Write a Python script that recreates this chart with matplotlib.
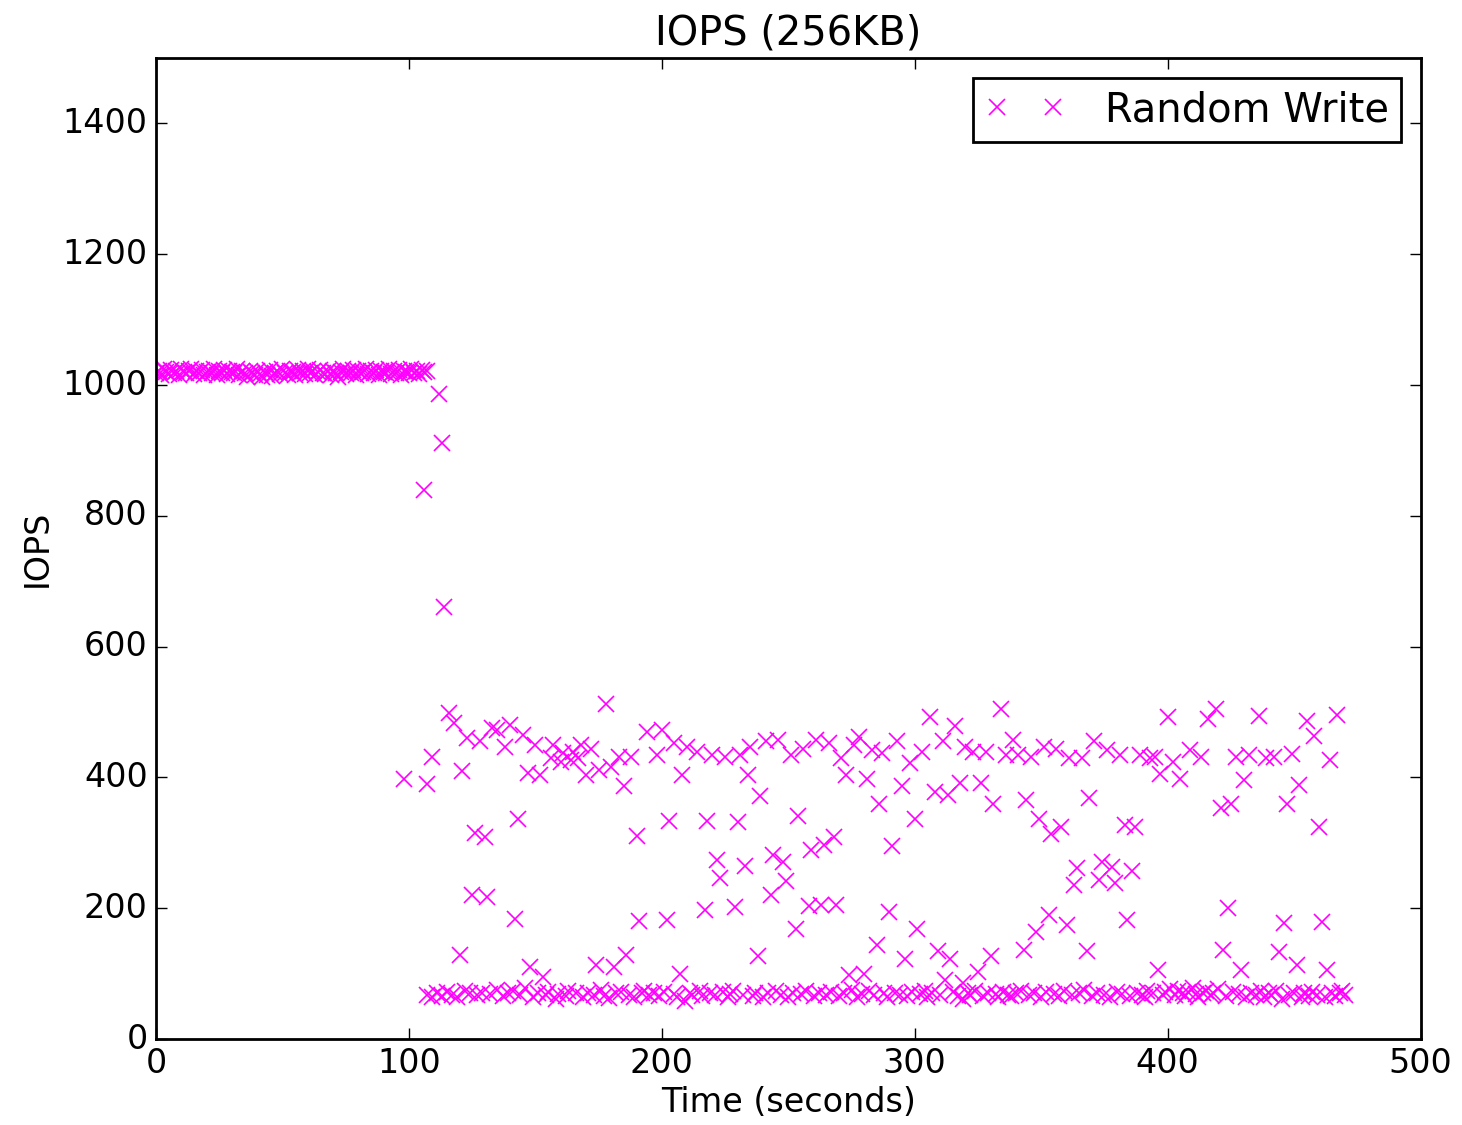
import numpy as np
import matplotlib
matplotlib.use('Agg')
import matplotlib.pyplot as plt

plt.style.use('classic')

# plateau before the drive falls off (one sample per second)
plateau_t = np.arange(0, 108)
plateau_v = [1018, 1022, 1015, 1024, 1020, 1017, 1023, 1019, 1021, 1016, 1025, 1020,
             1018, 1022, 1024, 1017, 1021, 1019, 1023, 1016, 1020, 1022, 1018, 1024,
             1015, 1021, 1019, 1023, 1017, 1022, 1020, 1018, 1024, 1016, 1021, 1019,
             1013, 1022, 1018, 1015, 1021, 1017, 1012, 1020, 1016, 1023, 1014, 1019,
             1021, 1017, 1024, 1018, 1015, 1022, 1020, 1016, 1023, 1019, 1021, 1017,
             1024, 1018, 1022, 1016, 1020, 1023, 1019, 1017, 1021, 1015, 1022, 1018,
             1013, 1020, 1024, 1017, 1021, 1019, 1023, 1016, 1022, 1018, 1020, 1024,
             1017, 1021, 1019, 1023, 1016, 1022, 1020, 1018, 1024, 1017, 1021, 1019,
             1023, 1016, 1022, 1020, 1018, 1024, 1019, 1021, 1017, 1023, 1020, 1022]

# low band after the drop
low_t = [107, 109, 111, 113, 115, 117, 119, 122, 124, 127,
         129, 132, 135, 137, 139, 141, 144, 146, 149, 151,
         154, 155, 158, 159, 162, 163, 166, 169, 171, 173,
         176, 177, 179, 182, 184, 187, 189, 192, 193, 195,
         197, 199, 201, 205, 206, 209, 211, 212, 215, 216,
         219, 221, 224, 226, 227, 228, 232, 236, 237, 240,
         242, 245, 247, 250, 252, 255, 257, 260, 262, 265,
         267, 270, 272, 275, 277, 279, 282, 284, 288, 289,
         292, 294, 297, 299, 302, 304, 305, 307, 310, 315,
         317, 319, 321, 322, 324, 327, 329, 332, 333, 335,
         337, 338, 340, 342, 345, 347, 350, 352, 355, 357,
         359, 362, 365, 367, 370, 372, 375, 377, 380, 382,
         385, 388, 390, 391, 392, 394, 398, 399, 401, 403,
         404, 406, 407, 408, 410, 411, 412, 414, 415, 417,
         418, 420, 423, 426, 428, 431, 433, 435, 437, 438,
         440, 441, 443, 445, 448, 450, 453, 454, 456, 457,
         459, 462, 465, 466, 468, 469, 470]
low_v = [68, 64, 70, 66, 72, 68, 65, 74, 70, 67,
         71, 69, 75, 66, 70, 73, 68, 78, 64, 70,
         67, 72, 62, 69, 66, 74, 70, 65, 71, 68,
         75, 66, 63, 70, 72, 68, 65, 71, 74, 67,
         70, 66, 72, 69, 65, 58, 71, 68, 73, 66,
         70, 67, 72, 65, 69, 74, 68, 66, 71, 64,
         70, 73, 67, 65, 71, 69, 74, 66, 70, 68,
         72, 66, 70, 75, 64, 69, 73, 67, 71, 65,
         70, 68, 66, 72, 69, 74, 64, 70, 67, 72,
         66, 62, 70, 68, 73, 66, 71, 69, 65, 72,
         68, 66, 71, 74, 67, 70, 65, 72, 69, 66,
         73, 68, 70, 75, 66, 71, 68, 64, 72, 69,
         66, 71, 68, 65, 73, 70, 67, 72, 76, 68,
         74, 70, 66, 72, 78, 69, 65, 71, 74, 67,
         70, 76, 66, 72, 69, 65, 71, 68, 74, 64,
         70, 67, 73, 62, 68, 71, 65, 70, 66, 72,
         68, 64, 71, 66, 70, 74, 68]

# everything else (upper band and scattered samples)
scat_t = [98, 106, 107, 109, 112, 113, 114, 116, 118, 120, 121, 123, 125, 126, 128,
          130, 131, 133, 135, 138, 140, 142, 143, 145, 147, 148, 150, 152, 153, 156,
          157, 160, 161, 164, 165, 167, 168, 170, 172, 174, 175, 178, 180, 181, 183,
          185, 186, 188, 190, 191, 194, 198, 200, 202, 203, 205, 207,
          208, 210, 214, 217, 218, 220, 222, 223, 225, 229, 230, 231, 233, 234, 235,
          238, 239, 241, 243, 244, 246, 248, 249, 251, 253, 254, 256, 258, 259, 261,
          263, 264, 266, 268, 269, 271, 273, 274, 276, 278, 280, 281, 283, 285, 286,
          287, 290, 291, 293, 295, 296, 298, 300, 301, 303, 306, 308, 309, 311, 312,
          313, 314, 316, 318, 319, 320,
          323, 325, 326, 328, 330, 331, 334, 336, 339, 341, 343, 344, 346, 348, 349,
          351, 353, 354, 356, 358, 360, 361, 363, 364, 366, 368, 369, 371, 373, 374,
          376, 378, 379, 381, 383, 384, 386, 387, 389, 393, 395, 396, 397, 400, 402,
          405, 409, 413, 416, 419, 421, 422, 424, 425, 427, 429, 430, 432, 436,
          439, 442, 444, 446, 447, 449, 451, 452, 455, 458, 460, 461, 463, 464, 467]
scat_v = [397, 840, 390, 432, 986, 912, 661, 499, 483, 128, 410, 460, 220, 315, 456,
          309, 217, 475, 472, 447, 480, 183, 337, 465, 407, 110, 450, 404, 95, 430,
          450, 424, 437, 427, 439, 429, 450, 404, 444, 113, 411, 512, 416, 110, 432,
          387, 128, 432, 311, 181, 470, 434, 472, 182, 334, 452, 100,
          404, 447, 439, 197, 334, 434, 274, 246, 432, 202, 332, 434, 265, 404, 447,
          127, 372, 455, 220, 281, 457, 271, 241, 434, 169, 341, 444, 203, 289, 457,
          205, 297, 452, 309, 205, 429, 404, 98, 450, 462, 100, 397, 442, 144, 360,
          437, 195, 295, 455, 387, 122, 422, 337, 168, 439, 493, 378, 134, 455, 90,
          373, 123, 479, 391, 85, 447,
          439, 103, 391, 439, 127, 359, 504, 434, 457, 434, 136, 366, 432, 163, 337,
          447, 190, 313, 444, 325, 174, 429, 235, 261, 429, 134, 368, 455, 243, 270,
          442, 263, 238, 434, 327, 182, 257, 325, 434, 429, 432, 105, 405, 492, 424,
          397, 442, 432, 489, 504, 354, 136, 200, 359, 432, 105, 396, 434, 494,
          429, 432, 133, 178, 360, 436, 113, 388, 487, 463, 325, 179, 105, 426, 495]

t = np.concatenate([plateau_t, low_t, scat_t])
v = np.concatenate([plateau_v, low_v, scat_v])
order = np.argsort(t, kind='stable')

fig = plt.figure(figsize=(7.31, 5.625), dpi=200, facecolor='white')
ax = fig.add_axes([0.1067, 0.0764, 0.865, 0.872])
ax.plot(t[order], v[order], 'x', color='magenta', markersize=6,
        markeredgewidth=0.6, label='Random Write')
ax.set_xlim(0, 500)
ax.set_ylim(0, 1500)
ax.set_xticks([0, 100, 200, 300, 400, 500])
ax.set_yticks([0, 200, 400, 600, 800, 1000, 1200, 1400])
ax.tick_params(axis='both', which='major', pad=3)
ax.set_title('IOPS (256KB)', fontsize=14.4)
ax.set_xlabel('Time (seconds)', labelpad=2)
ax.set_ylabel('IOPS', labelpad=3)
ax.legend(loc='upper right', numpoints=2, fontsize=14.4, borderpad=0.3,
          handletextpad=1.0)
fig.savefig('out.png', dpi=200, facecolor='white')
